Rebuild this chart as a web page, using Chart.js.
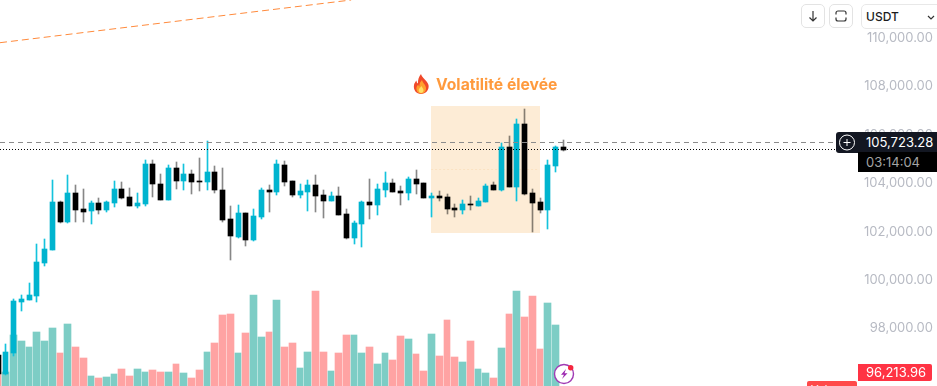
<!DOCTYPE html>
<html lang="fr">

<head>
    <meta charset="UTF-8">
    <title>BTC/USDT</title>
    <style>
        html, body { margin: 0; padding: 0; background: #fff; overflow: hidden; }
        #wrap { position: relative; width: 937px; height: 386px; overflow: hidden; font-family: Inter, "Liberation Sans", sans-serif; }
        #myChart { position: absolute; left: 0; top: 0; }
        .box { position: absolute; box-sizing: border-box; }
        .btn { top: 4px; width: 24px; height: 24px; border: 1px solid #e3e3e3; border-radius: 5px; background: #fff; }
        .btn svg { position: absolute; left: 4px; top: 4px; }
        #select { left: 861px; top: 4px; width: 90px; height: 25px; border: 1px solid #e8e8e8; border-radius: 5px; background: #fff; font-size: 12px; font-weight: 500; line-height: 24px; padding-left: 4px; color: #1c1c1c; }
        #chevron { position: absolute; left: 927px; top: 15px; }
        #title { left: 436px; top: 74px; font-size: 15.7px; font-weight: 700; color: #ff9a3d; line-height: 21px; white-space: nowrap; }
        #priceBox { left: 858px; top: 132px; width: 79px; height: 20px; background: #131722; color: #fff; font-size: 13px; line-height: 20px; padding-left: 8px; }
        #timeBox { left: 858px; top: 152px; width: 79px; height: 20px; background: #000; color: #a4a4a4; font-size: 13px; line-height: 20px; padding-left: 8px; }
        #plusBox { left: 836px; top: 132px; width: 22px; height: 21px; background: #131722; border-radius: 3px 0 0 3px; }
        #lowBox { left: 858px; top: 364px; width: 74px; height: 17px; background: #ff3344; color: #fff; font-size: 13px; line-height: 17px; padding-left: 8px; border-radius: 0 2px 2px 0; }
        #volBox { left: 807px; top: 381px; width: 50px; height: 17px; background: #ff4a4a; color: #fff; font-size: 11px; line-height: 17px; padding-left: 4px; border-radius: 2px; }
    </style>
</head>

<body>
    <div id="wrap">
        <canvas id="myChart" width="937" height="386"></canvas>

        <svg class="box" style="left:412px;top:73px" width="19" height="22" viewBox="0 0 19 22">
            <path d="M9 1c1 4 6 6 7.5 11 1 5-3 9-7.5 9S1 17 2 12c.4-2 1.6-3.5 2.5-4.500 0 1.500.5 2.500 1.500 3C5.700 6.500 7 3.500 9 1z" fill="#f0492a"/>
            <path d="M10 7c.5 3 4 4.500 4 8.500 0 3-2.200 5-4.800 5s-4.800-2-4.800-5c0-2 1-3.300 2-4 0 1 .4 1.700 1 2C7.200 11 8.300 9 10 7z" fill="#ff9f2e"/>
            <path d="M9.500 13c.3 1.500 2 2.300 2 4.200 0 1.600-1.100 2.800-2.400 2.800s-2.400-1.200-2.400-2.800c0-1.900 2-2.500 2.800-4.200z" fill="#ffe066"/>
        </svg>
        <div class="box" id="title">Volatilité élevée</div>

        <div class="box btn" style="left:801px">
            <svg width="14" height="14" viewBox="0 0 14 14" fill="none" stroke="#333" stroke-width="1.200"><path d="M7 2v10M3.500 8.500L7 12l3.500-3.500"/></svg>
        </div>
        <div class="box btn" style="left:829px">
            <svg width="14" height="14" viewBox="0 0 14 14" fill="none" stroke="#333" stroke-width="1.200"><path d="M2 5.500V4a2 2 0 0 1 2-2h6a2 2 0 0 1 2 2v1.500M2 8.500V10a2 2 0 0 0 2 2h6a2 2 0 0 0 2-2V8.500"/></svg>
        </div>
        <div class="box" id="select">USDT</div>
        <svg id="chevron" width="8" height="5" viewBox="0 0 8 5" fill="none" stroke="#333" stroke-width="1.200"><path d="M1 1l3 3 3-3"/></svg>

        <div class="box" id="plusBox">
            <svg width="22" height="21" viewBox="0 0 22 21" fill="none" stroke="#fff" stroke-width="1"><circle cx="11" cy="10.500" r="7.500"/><path d="M7.500 10.500h7M11 7v7"/></svg>
        </div>
        <div class="box" id="priceBox">105,723.28</div>
        <div class="box" id="timeBox">03:14:04</div>
        <div class="box" id="lowBox">96,213.96</div>
        <div class="box" id="volBox">Volume</div>

        <svg class="box" style="left:552px;top:362px" width="26" height="24" viewBox="0 0 26 24">
            <circle cx="12" cy="12" r="9.500" fill="#fff" stroke="#a03ab4" stroke-width="1.400"/>
            <path d="M14 7L9 12.800h3l-2 4.200 5.500-5.800h-3z" fill="#9c27b0"/>
            <circle cx="18.700" cy="5.800" r="2.700" fill="#f5263f"/>
        </svg>
    </div>

    <script src="https://cdn.jsdelivr.net/npm/chart.js"></script>
    <script>
        // 캔들 값 (picture read)
        const v_opens = [96864, 96079, 96947, 99054, 99137, 99302, 100666, 101203, 103186, 102360,
            103558, 102897, 102814, 103145, 102856, 103145, 103724, 103393, 103021, 103104,
            104757, 103930, 103269, 104591, 104054, 104343, 104054, 104013, 104426, 103682,
            102484, 101740, 102732, 101616, 102567, 103682, 103600, 104715, 104054, 103476,
            103600, 103889, 103476, 103228, 103434, 102691, 101699, 102277, 103186, 103062,
            103682, 103971, 103641, 103558, 104137, 103971, 103352, 103434, 103393, 102938,
            102856, 103104, 103021, 103186, 103889, 103682, 105459, 103806, 106409, 103558,
            103186, 102856, 104674, 105459];
        const v_closes = [96079, 96988, 99096, 99178, 99344, 100707, 101244, 103186, 102360, 103558,
            102856, 102773, 103145, 102856, 103186, 103724, 103352, 103021, 103145, 104757,
            103930, 103269, 104591, 104054, 104343, 104013, 104013, 104426, 103682, 102443,
            101781, 102732, 101616, 102608, 103682, 103600, 104757, 104013, 103476, 103641,
            103889, 103434, 103228, 103434, 102649, 101699, 102319, 103186, 103062, 103724,
            103971, 103600, 103558, 104137, 103930, 103352, 103434, 103352, 102897, 102856,
            103104, 103062, 103228, 103847, 103682, 105459, 103806, 106409, 103517, 103145,
            102856, 104715, 105459, 105335];
        const v_highs = [96864, 97319, 99178, 99344, 99839, 101451, 101658, 104095, 103228, 104302,
            103889, 103724, 103228, 103352, 103228, 104054, 104013, 103765, 103558, 104922,
            104922, 104343, 104715, 104839, 104757, 104509, 105004, 105707, 104674, 104591,
            103021, 103062, 102732, 102897, 103765, 103889, 104922, 104880, 104054, 103930,
            104095, 104302, 103682, 103600, 103806, 102897, 102401, 103228, 104137, 103930,
            104426, 104137, 103847, 104219, 104509, 103971, 103558, 103641, 103517, 103104,
            103269, 103434, 103352, 103930, 104013, 105624, 105913, 106616, 107029, 103724,
            103352, 104922, 105500, 105748];
        const v_lows = [96079, 96038, 96823, 98682, 99137, 99054, 100542, 101203, 102319, 102319,
            102360, 102360, 102277, 102691, 102773, 102980, 103310, 103021, 102938, 103021,
            103393, 103269, 103269, 103724, 103682, 103517, 103641, 103682, 103558, 102360,
            100790, 101699, 101368, 101575, 102484, 102773, 103476, 103847, 103393, 103352,
            102814, 102773, 102525, 103228, 102649, 101658, 101451, 101327, 102484, 102649,
            103393, 103600, 103062, 103269, 103517, 103352, 102567, 103228, 102691, 102567,
            102691, 102856, 103021, 103186, 103682, 103641, 103806, 103228, 103476, 101947,
            102732, 102071, 104426, 105294];
        const v_volumes = [12, 14, 51, 45, 39, 54, 45, 58, 33, 62,
            39, 28, 10, 8, 9, 12, 17, 10, 17, 14,
            16, 14, 14, 22, 13, 8, 16, 34, 43, 71,
            72, 33, 53, 91, 49, 54, 86, 39, 43, 18,
            34, 95, 34, 15, 33, 51, 51, 33, 39, 22,
            33, 26, 50, 47, 32, 15, 52, 30, 66, 29,
            24, 45, 17, 13, 8, 38, 72, 95, 69, 90,
            37, 83, 61, null];

        const v_priceTicks = [98000, 100000, 102000, 104000, 106000, 108000, 110000];

        const v_dashedPrice = 105645;
        const v_dottedPrice = 105356;
        const v_zoneMidPrice = 104529;
        const v_trendPrices = [109769, 111533];
        const v_trendIdx = [0.2446, 45.6];
        const v_zoneIdx = [55.93, 70.02];
        const v_zonePrices = [101905, 107153];

        const c_up = '#00b4cf';
        const c_upWick = '#14c3dc';
        const c_down = '#000000';
        const c_downWick = 'rgba(0,0,0,0.47)';
        const c_volUp = '#7dcdc5';
        const c_volDown = '#ffa3a3';

        function pts(fn) {
            return v_opens.map((o, i) => ({ x: i, y: fn(i) }));
        }
        const isUp = i => v_closes[i] >= v_opens[i];

        const v_plugin = {
            id: 'zoneAndSnap',
            beforeDatasetsDraw(chart) {
                const { ctx, scales } = chart;
                // 막대를 픽셀에 맞춘다
                chart.getSortedVisibleDatasetMetas().forEach(meta => {
                    if (meta.type !== 'bar') return;
                    const isVol = meta.yAxisID === 'yVol';
                    meta.data.forEach((el, i) => {
                        const px = Math.floor(scales.x.getPixelForValue(i));
                        if (isVol) {
                            // 다음 막대와 1px 간격
                            const next = Math.floor(scales.x.getPixelForValue(i + 1));
                            el.width = next - px - 1;
                            el.x = px - 3 + el.width / 2;
                        } else {
                            el.x = px + 0.5;
                        }
                        el.y = Math.round(el.y);
                        el.base = Math.round(el.base);
                    });
                });
                const x0 = scales.x.getPixelForValue(v_zoneIdx[0]);
                const x1 = scales.x.getPixelForValue(v_zoneIdx[1]);
                const y0 = scales.y.getPixelForValue(v_zonePrices[1]);
                const y1 = scales.y.getPixelForValue(v_zonePrices[0]);
                ctx.save();
                ctx.fillStyle = '#fdecd6';
                ctx.fillRect(Math.round(x0), Math.round(y0), Math.round(x1 - x0), Math.round(y1 - y0));
                ctx.restore();
            }
        };

        new Chart(document.getElementById('myChart'), {
            data: {
                datasets: [{
                    type: 'bar',
                    order: 5,
                    yAxisID: 'yVol',
                    data: pts(i => v_volumes[i]),
                    barThickness: 7,
                    backgroundColor: v_opens.map((o, i) => isUp(i) ? c_volUp : c_volDown)
                }, {
                    type: 'bar',
                    order: 3,
                    data: pts(i => [v_lows[i], v_highs[i]]),
                    barThickness: 1,
                    backgroundColor: v_opens.map((o, i) => isUp(i) ? c_upWick : c_downWick)
                }, {
                    type: 'bar',
                    order: 2,
                    data: pts(i => [v_opens[i], v_closes[i]]),
                    barThickness: 5,
                    backgroundColor: v_opens.map((o, i) => isUp(i) ? c_up : c_down)
                }, {
                    type: 'line',
                    order: 4,
                    data: [{ x: v_zoneIdx[0], y: v_zoneMidPrice }, { x: 69.7, y: v_zoneMidPrice }],
                    borderColor: '#fbe2c2',
                    borderWidth: 1,
                    borderDash: [2, 2],
                    pointRadius: 0
                }, {
                    type: 'line',
                    order: 1,
                    data: [{ x: 0.2446, y: v_dashedPrice }, { x: 108.6, y: v_dashedPrice }],
                    borderColor: '#8b8b8b',
                    borderWidth: 1,
                    borderDash: [5, 4],
                    pointRadius: 0
                }, {
                    type: 'line',
                    order: 1,
                    data: [{ x: 0.2446, y: v_dottedPrice }, { x: 108.6, y: v_dottedPrice }],
                    borderColor: '#000000',
                    borderWidth: 1,
                    borderDash: [1, 2],
                    pointRadius: 0
                }, {
                    type: 'line',
                    order: 1,
                    data: v_trendIdx.map((x, i) => ({ x: x, y: v_trendPrices[i] })),
                    borderColor: '#ff8a3c',
                    borderWidth: 1,
                    borderDash: [7, 4],
                    pointRadius: 0
                }]
            },
            options: {
                responsive: false,
                animation: false,
                layout: { padding: 0 },
                plugins: { legend: { display: false }, tooltip: { enabled: false } },
                datasets: { bar: { grouped: false } },
                scales: {
                    x: {
                        type: 'linear',
                        display: false,
                        offset: false,
                        min: 0.2446,
                        max: 121.27
                    },
                    y: {
                        type: 'linear',
                        position: 'right',
                        min: 95583,
                        max: 111533,
                        grid: { display: false },
                        border: { display: false },
                        afterBuildTicks: s => { s.ticks = v_priceTicks.map(v => ({ value: v })); },
                        afterFit: s => { s.width = 0; s.paddingTop = 0; s.paddingBottom = 0; s.paddingLeft = 0; s.paddingRight = 0; },
                        ticks: {
                            mirror: true,
                            padding: -4,
                            labelOffset: 1,
                            color: '#b7bac3',
                            font: { family: 'Inter', size: 13 },
                            callback: v => v.toLocaleString('en-US', { minimumFractionDigits: 2 })
                        }
                    },
                    yVol: {
                        type: 'linear',
                        display: false,
                        min: 0,
                        max: 386
                    }
                }
            },
            plugins: [v_plugin]
        });
    </script>
</body>

</html>
